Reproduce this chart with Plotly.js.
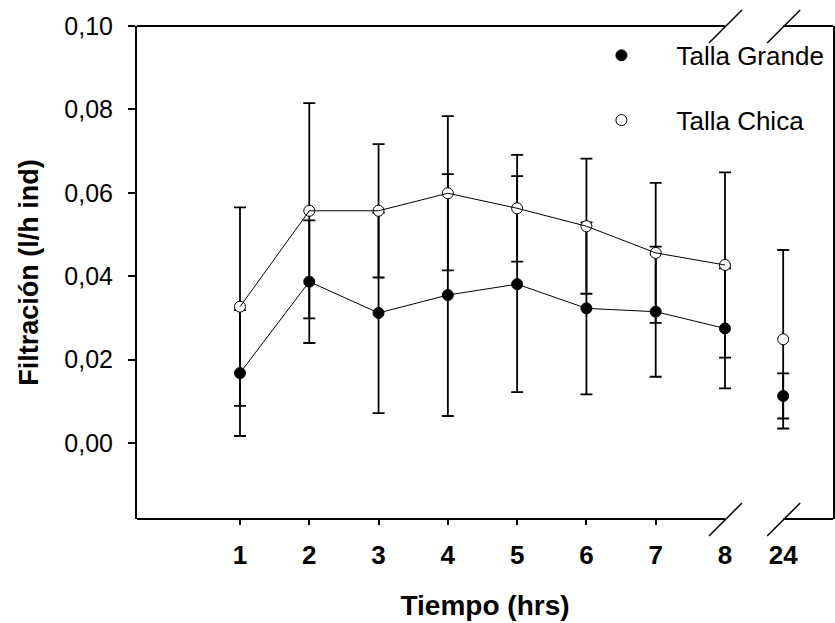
<!DOCTYPE html>
<html>
<head>
<meta charset="utf-8">
<script src="https://cdn.plot.ly/plotly-3.0.1.min.js"></script>
<style>
  html, body { margin: 0; padding: 0; background: #ffffff; }
  #chart { width: 835px; height: 623px; }
</style>
</head>
<body>
<div id="chart"></div>
<script>
// Sampling times (hours) and their tick labels
const hours = [1, 2, 3, 4, 5, 6, 7, 8, 24];
const hourLabels = ["1", "2", "3", "4", "5", "6", "7", "8", "24"];

// Filtration rate (l/h per individual), mean and error
const grande = [0.0168, 0.0387, 0.0312, 0.0355, 0.0381, 0.0323, 0.0315, 0.0275, 0.0113];
const grandeErr = [0.0151, 0.0147, 0.0240, 0.0290, 0.0259, 0.0206, 0.0156, 0.0144, 0.0054];
const chica = [0.0327, 0.0557, 0.0557, 0.0599, 0.0563, 0.0520, 0.0456, 0.0427, 0.0249];
const chicaErr = [0.0238, 0.0258, 0.0160, 0.0185, 0.0128, 0.0162, 0.0168, 0.0222, 0.0214];

const seriesNames = ["Talla Grande", "Talla Chica"];

// Broken time axis: hours up to 8 are linear, later hours sit just past the break
const BREAK_AT = 8;
const BREAK_GAP = 0.84;
const pos = hours.map(h => (h <= BREAK_AT ? h : BREAK_AT + BREAK_GAP));
const nLinear = hours.filter(h => h <= BREAK_AT).length;

const X_RANGE = [-0.4865, 9.559];
const Y_RANGE = [-0.0182, 0.10];
const FONT = "Liberation Sans, Arial, sans-serif";

function lineTrace(y, xa) {
  return {
    x: pos.slice(0, nLinear),
    y: y.slice(0, nLinear),
    xaxis: xa,
    mode: "lines",
    line: { color: "#000", width: 1 },
    showlegend: false,
    hoverinfo: "skip"
  };
}

function pointTrace(y, err, name, fill, group) {
  return {
    x: pos,
    y: y,
    name: name,
    legendgroup: group,
    mode: "markers",
    marker: { symbol: "circle", size: 11, color: fill, line: { color: "#000", width: 1 } },
    error_y: { type: "data", array: err, visible: true, color: "#000", thickness: 1.8, width: 6 }
  };
}

const traces = [
  lineTrace(grande, "x"),
  lineTrace(chica, "x2"),
  pointTrace(grande, grandeErr, seriesNames[0], "#000", "g1"),
  pointTrace(chica, chicaErr, seriesNames[1], "#fff", "g2")
];

// Frame with a gap at the axis break, plus the break slashes
const frame = { color: "#000", width: 2 };
const slash = { color: "#000", width: 1.5 };
const shapes = [];
[0, 1].forEach(yp => {
  shapes.push({ type: "line", xref: "x", yref: "paper", x0: X_RANGE[0], x1: BREAK_AT, y0: yp, y1: yp, line: frame });
  shapes.push({ type: "line", xref: "x", yref: "paper", x0: BREAK_AT + BREAK_GAP, x1: X_RANGE[1], y0: yp, y1: yp, line: frame });
  [BREAK_AT, BREAK_AT + BREAK_GAP].forEach(xa => {
    shapes.push({
      type: "line", xref: "x", yref: "paper",
      xsizemode: "pixel", ysizemode: "pixel", xanchor: xa, yanchor: yp,
      x0: -16, x1: 17, y0: -17, y1: 16, line: slash
    });
  });
});

const tickFontX = { family: FONT, size: 26, color: "#000", weight: "bold" };

const layout = {
  width: 835,
  height: 623,
  margin: { l: 137, r: 2, t: 26, b: 104 },
  paper_bgcolor: "#fff",
  plot_bgcolor: "#fff",
  separators: ",.",
  font: { family: FONT, color: "#000" },
  showlegend: true,
  legend: {
    x: 0.617, y: 0.988, xanchor: "left", yanchor: "top",
    bgcolor: "rgba(0,0,0,0)",
    itemwidth: 100,
    traceorder: "grouped",
    tracegroupgap: 28,
    font: { family: FONT, size: 26, color: "#000" }
  },
  xaxis: {
    range: X_RANGE,
    tickvals: pos.slice(0, nLinear - 1),
    ticktext: hourLabels.slice(0, nLinear - 1),
    ticks: "outside", ticklen: 5, tickwidth: 2, tickcolor: "#000",
    tickfont: tickFontX,
    ticklabelstandoff: 8,
    showgrid: false, zeroline: false, showline: false,
    title: { text: "Tiempo (hrs)", font: { family: FONT, size: 28, weight: "bold", color: "#000" }, standoff: 26 }
  },
  xaxis2: {
    range: X_RANGE,
    overlaying: "x",
    anchor: "y",
    matches: "x",
    tickvals: pos.slice(nLinear - 1),
    ticktext: hourLabels.slice(nLinear - 1),
    ticks: "outside", ticklen: 5, tickwidth: 2, tickcolor: "rgba(0,0,0,0)",
    tickfont: tickFontX,
    ticklabelstandoff: 8,
    showgrid: false, zeroline: false, showline: false
  },
  yaxis: {
    range: Y_RANGE,
    tickvals: [0, 0.02, 0.04, 0.06, 0.08, 0.10],
    tickformat: ".2f",
    ticks: "outside", ticklen: 7, tickwidth: 2, tickcolor: "#000",
    tickfont: { family: FONT, size: 25, color: "#000" },
    ticklabelstandoff: 10,
    showgrid: false, zeroline: false,
    showline: true, mirror: true, linewidth: 2, linecolor: "#000",
    title: { text: "Filtración (l/h ind)", font: { family: FONT, size: 27, weight: "bold", color: "#000" }, standoff: 18 }
  },
  shapes: shapes
};

Plotly.newPlot("chart", traces, layout, { displayModeBar: false, staticPlot: true });
</script>
</body>
</html>
